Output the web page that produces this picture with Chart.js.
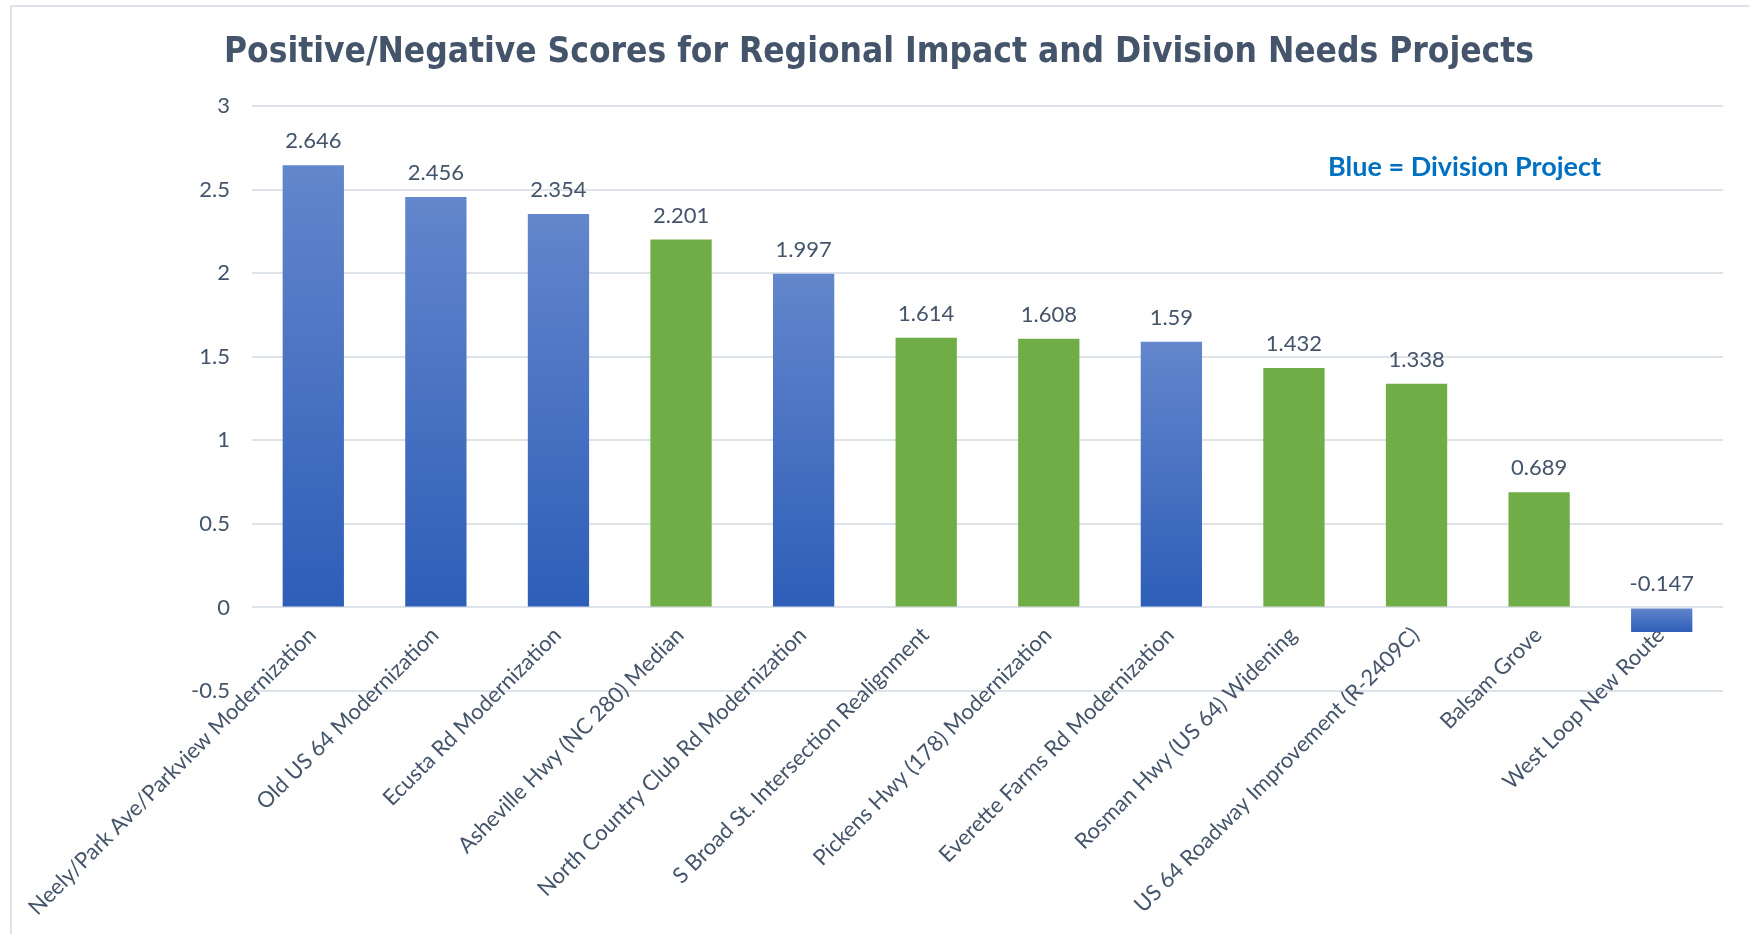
<!DOCTYPE html>
<html>
<head>
<meta charset="utf-8">
<script src="https://cdn.jsdelivr.net/npm/chart.js@4.4.1/dist/chart.umd.min.js"></script>
<style>
  html, body { margin: 0; padding: 0; background: #ffffff; }
  #wrap { position: relative; width: 1749px; height: 934px; }
  canvas { display: block; }
</style>
</head>
<body>
<div id="wrap"><canvas id="c" width="1749" height="934"></canvas></div>
<script>
const categories = [
  "Neely/Park Ave/Parkview Modernization",
  "Old US 64 Modernization",
  "Ecusta Rd Modernization",
  "Asheville Hwy (NC 280) Median",
  "North Country Club Rd Modernization",
  "S Broad St. Intersection Realignment",
  "Pickens Hwy (178) Modernization",
  "Everette Farms Rd Modernization",
  "Rosman Hwy (US 64) Widening",
  "US 64 Roadway Improvement (R-2409C)",
  "Balsam Grove",
  "West Loop New Route"
];
const scores = [2.646, 2.456, 2.354, 2.201, 1.997, 1.614, 1.608, 1.59, 1.432, 1.338, 0.689, -0.147];
const isDivision = [true, true, true, false, true, false, false, true, false, false, false, true];
const yTicks = [-0.5, 0, 0.5, 1, 1.5, 2, 2.5, 3];
const titleText = "Positive/Negative Scores for Regional Impact and Division Needs Projects";
const noteText = "Blue = Division Project";

const TEXT = '#44546A';
const GRID = '#DEE2E9';
const GREEN = '#70AD47';
const BLUE_TOP = 'rgb(99,134,204)';
const BLUE_BOTTOM = 'rgb(46,94,184)';
const LABEL_FONT = 'Lato, "Open Sans", sans-serif';

function barColor(ctx) {
  const i = ctx.dataIndex;
  if (!isDivision[i]) return GREEN;
  const chart = ctx.chart;
  const ys = chart.scales.y;
  if (!ys) return BLUE_BOTTOM;
  const v = scores[i];
  const top = ys.getPixelForValue(Math.max(v, 0));
  const bottom = ys.getPixelForValue(Math.min(v, 0));
  if (!isFinite(top) || !isFinite(bottom) || top === bottom) return BLUE_BOTTOM;
  const g = chart.ctx.createLinearGradient(0, top, 0, bottom);
  g.addColorStop(0, BLUE_TOP);
  g.addColorStop(1, BLUE_BOTTOM);
  return g;
}

const framePlugin = {
  id: 'frame',
  beforeDraw(chart) {
    const c = chart.ctx;
    c.save();
    c.strokeStyle = '#DDE1E8';
    c.lineWidth = 2;
    c.beginPath();
    c.moveTo(11, chart.height);
    c.lineTo(11, 6);
    c.lineTo(chart.width, 6);
    c.stroke();
    c.restore();
  }
};

// Category labels drawn at the zero line, rotated 45°, positioned via the x scale
const categoryLabelPlugin = {
  id: 'categoryLabels',
  beforeDatasetsDraw(chart) {
    const c = chart.ctx;
    const xs = chart.scales.x;
    const ys = chart.scales.y;
    const y0 = ys.getPixelForValue(0);
    c.save();
    c.fillStyle = TEXT;
    c.font = '22px ' + LABEL_FONT;
    c.textAlign = 'right';
    c.textBaseline = 'middle';
    categories.forEach((lab, i) => {
      const x = xs.getPixelForValue(i);
      c.save();
      c.translate(x - 1, y0 + 24);
      c.rotate(-Math.PI / 4);
      c.fillText(lab, 0, 0);
      c.restore();
    });
    c.restore();
  }
};

const valueLabelPlugin = {
  id: 'valueLabels',
  afterDatasetsDraw(chart) {
    const c = chart.ctx;
    const meta = chart.getDatasetMeta(0);
    c.save();
    c.fillStyle = TEXT;
    c.font = '22px ' + LABEL_FONT;
    c.textAlign = 'center';
    c.textBaseline = 'alphabetic';
    meta.data.forEach((bar, i) => {
      const top = Math.min(bar.y, bar.base);
      c.fillText(String(scores[i]), bar.x, top - 17);
    });
    c.restore();
  }
};

const notePlugin = {
  id: 'note',
  afterDraw(chart) {
    const c = chart.ctx;
    c.save();
    c.fillStyle = '#0070C0';
    c.font = 'bold 27px ' + LABEL_FONT;
    c.textAlign = 'left';
    c.textBaseline = 'middle';
    c.fillText(noteText, 1328, 167);
    c.restore();
  }
};

new Chart(document.getElementById('c'), {
  type: 'bar',
  data: {
    labels: categories,
    datasets: [{
      data: scores,
      backgroundColor: barColor,
      borderWidth: 0,
      barPercentage: 0.5,
      categoryPercentage: 1.0
    }]
  },
  options: {
    responsive: false,
    animation: false,
    devicePixelRatio: 1,
    layout: { padding: { left: 35, right: 26, top: 0, bottom: 243 } },
    plugins: {
      legend: { display: false },
      tooltip: { enabled: false },
      title: {
        display: true,
        text: titleText,
        color: TEXT,
        font: { family: '"Liberation Sans Narrow", "DejaVu Sans Condensed", "Open Sans", sans-serif', size: 35, weight: 'bold' },
        padding: { top: 32, bottom: 32 }
      }
    },
    scales: {
      x: {
        grid: { display: false, drawTicks: false },
        border: { display: false },
        ticks: { display: false }
      },
      y: {
        min: -0.5,
        max: 3,
        afterBuildTicks(scale) { scale.ticks = yTicks.map(v => ({ value: v })); },
        afterFit(scale) { scale.width = 217; },
        grid: { color: GRID, lineWidth: 2, drawTicks: false },
        border: { display: false },
        ticks: {
          color: TEXT,
          font: { family: LABEL_FONT, size: 22 },
          padding: 22,
          callback: v => String(v)
        }
      }
    }
  },
  plugins: [framePlugin, categoryLabelPlugin, valueLabelPlugin, notePlugin]
});
</script>
</body>
</html>
